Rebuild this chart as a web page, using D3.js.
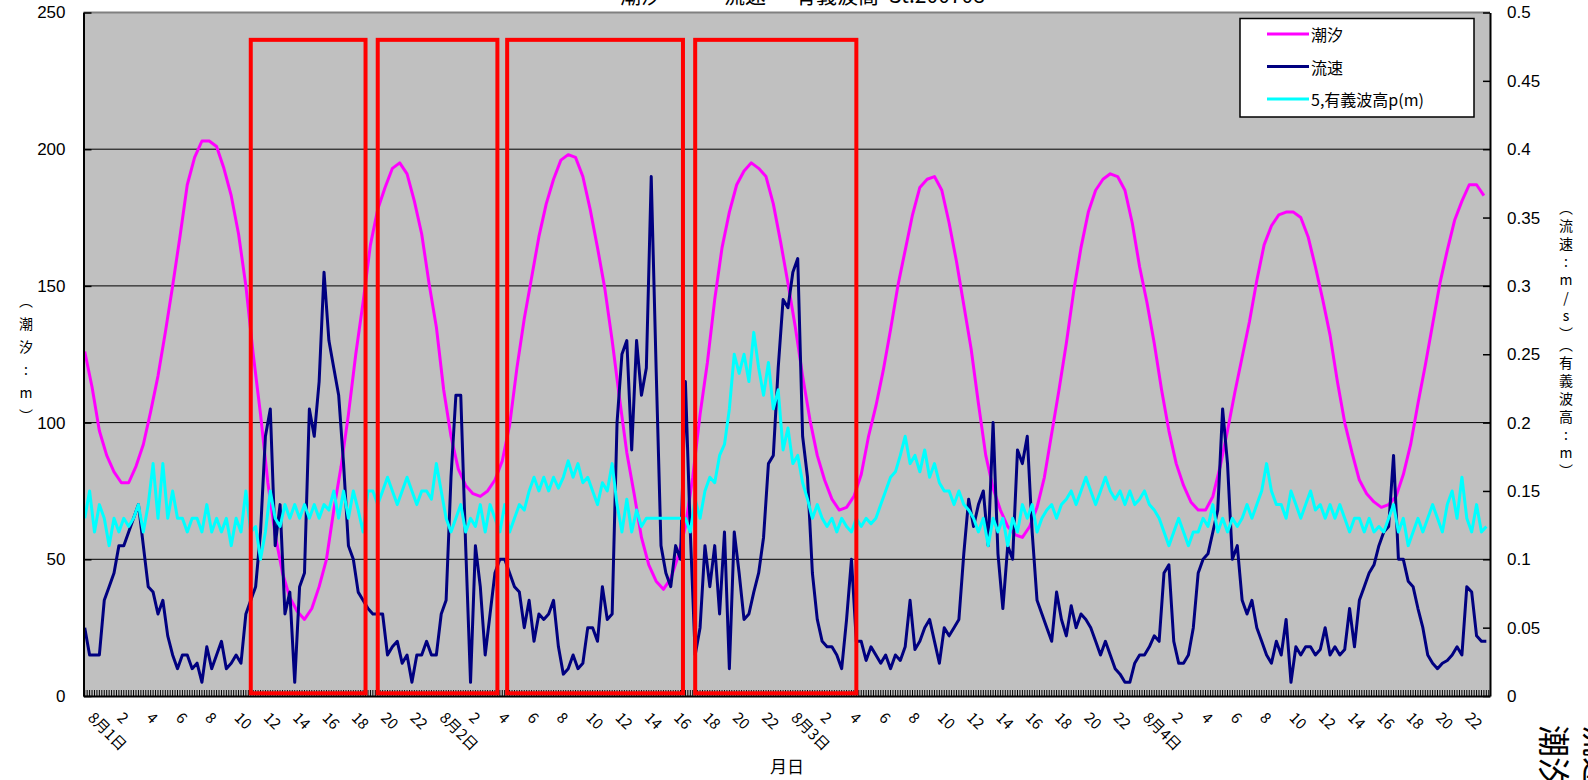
<!DOCTYPE html>
<html>
<head>
<meta charset="utf-8">
<script src="https://cdn.jsdelivr.net/npm/d3@7"></script>
<style>
  body { margin: 0; background: #fff; }
  svg { display: block; }
  text { font-family: "Liberation Sans", Arial, sans-serif; fill: #000; }
  .cjk { font-family: "Noto Sans CJK JP", "Liberation Sans", sans-serif; }
  .vert { writing-mode: vertical-rl; text-orientation: upright; }
</style>
</head>
<body>
<svg id="chart" width="1588" height="780"></svg>
<script>
// ---- data ----------------------------------------------------------
const dayLabels = ["8月1日", "8月2日", "8月3日", "8月4日"];
const hourLabels = [2, 4, 6, 8, 10, 12, 14, 16, 18, 20, 22];
const slotsPerHour = 6;          // 10-minute categories
const slotCount = 96 * slotsPerHour;

// tide (cm, left axis), one reading per 30 minutes
const tide = [
  126, 113, 97, 88, 82, 78, 78, 84, 92, 104, 117, 133,
  150, 168, 187, 197, 203, 203, 201, 193, 183, 169, 150, 125,
  103, 78, 59, 45, 36, 31, 28, 32, 40, 50, 68, 84,
  103, 125, 144, 165, 178, 186, 193, 195, 191, 181, 169, 151,
  135, 112, 95, 83, 77, 74, 73, 75, 79, 86, 99, 120,
  138, 153, 168, 180, 189, 196, 198, 197, 190, 178, 164, 149,
  130, 109, 89, 74, 58, 48, 42, 39, 43, 51, 62, 80,
  103, 122, 145, 164, 177, 187, 192, 195, 193, 190, 180, 166,
  151, 135, 117, 101, 88, 79, 72, 68, 69, 73, 81, 95,
  106, 119, 134, 150, 163, 176, 186, 189, 190, 185, 173, 159,
  143, 127, 107, 88, 76, 68, 62, 59, 58, 62, 69, 80,
  96, 112, 129, 148, 164, 177, 185, 189, 191, 190, 185, 173,
  157, 144, 129, 112, 97, 85, 77, 71, 68, 68, 73, 84,
  97, 111, 124, 137, 152, 165, 172, 176, 177, 177, 175, 168,
  157, 145, 132, 115, 100, 89, 79, 74, 71, 69, 70, 73,
  81, 92, 107, 121, 136, 151, 163, 174, 181, 187, 187, 183
];

// current speed (m/s, right axis), one reading per 20 minutes
const current = [
  0.05, 0.03, 0.03, 0.03, 0.07, 0.08, 0.09, 0.11, 0.11, 0.12, 0.13, 0.14,
  0.11, 0.08, 0.076, 0.06, 0.07, 0.044, 0.03, 0.02, 0.03, 0.03, 0.02, 0.024,
  0.01, 0.036, 0.02, 0.03, 0.04, 0.02, 0.024, 0.03, 0.024, 0.06, 0.07, 0.08,
  0.12, 0.19, 0.21, 0.11, 0.14, 0.06, 0.076, 0.01, 0.08, 0.09, 0.21, 0.19,
  0.23, 0.31, 0.26, 0.24, 0.22, 0.17, 0.11, 0.10, 0.076, 0.07, 0.064, 0.06,
  0.06, 0.06, 0.03, 0.036, 0.04, 0.024, 0.03, 0.01, 0.03, 0.03, 0.04, 0.03,
  0.03, 0.06, 0.07, 0.16, 0.22, 0.22, 0.11, 0.01, 0.11, 0.08, 0.03, 0.06,
  0.09, 0.10, 0.10, 0.09, 0.08, 0.076, 0.05, 0.07, 0.04, 0.06, 0.056, 0.06,
  0.07, 0.036, 0.016, 0.02, 0.03, 0.02, 0.024, 0.05, 0.05, 0.04, 0.08, 0.056,
  0.06, 0.20, 0.25, 0.26, 0.18, 0.26, 0.22, 0.24, 0.38, 0.24, 0.11, 0.09,
  0.08, 0.11, 0.10, 0.23, 0.12, 0.03, 0.05, 0.11, 0.08, 0.11, 0.06, 0.12,
  0.02, 0.12, 0.09, 0.056, 0.06, 0.076, 0.09, 0.116, 0.17, 0.176, 0.24, 0.29,
  0.284, 0.31, 0.32, 0.19, 0.16, 0.09, 0.056, 0.04, 0.036, 0.036, 0.03, 0.02,
  0.056, 0.10, 0.04, 0.04, 0.026, 0.036, 0.03, 0.024, 0.03, 0.02, 0.03, 0.026,
  0.036, 0.07, 0.034, 0.04, 0.05, 0.056, 0.04, 0.024, 0.05, 0.044, 0.05, 0.056,
  0.104, 0.144, 0.124, 0.14, 0.15, 0.11, 0.20, 0.104, 0.064, 0.11, 0.10, 0.18,
  0.17, 0.19, 0.12, 0.07, 0.06, 0.05, 0.04, 0.076, 0.056, 0.044, 0.066, 0.05,
  0.06, 0.056, 0.05, 0.04, 0.03, 0.04, 0.03, 0.02, 0.016, 0.01, 0.01, 0.024,
  0.03, 0.03, 0.036, 0.044, 0.04, 0.09, 0.096, 0.04, 0.024, 0.024, 0.03, 0.05,
  0.09, 0.10, 0.104, 0.12, 0.136, 0.21, 0.17, 0.10, 0.11, 0.07, 0.06, 0.07,
  0.05, 0.04, 0.03, 0.024, 0.04, 0.03, 0.056, 0.01, 0.036, 0.03, 0.036, 0.036,
  0.03, 0.034, 0.05, 0.03, 0.036, 0.03, 0.034, 0.064, 0.036, 0.07, 0.08, 0.09,
  0.096, 0.11, 0.12, 0.124, 0.176, 0.10, 0.10, 0.084, 0.08, 0.064, 0.05, 0.03,
  0.024, 0.02, 0.024, 0.026, 0.03, 0.036, 0.03, 0.08, 0.076, 0.044, 0.04, 0.04
];

// significant wave height (m, right axis), one reading per 20 minutes
const wave = [
  0.13, 0.15, 0.12, 0.14, 0.13, 0.11, 0.13, 0.12, 0.13, 0.124, 0.13, 0.14,
  0.12, 0.14, 0.17, 0.13, 0.17, 0.13, 0.15, 0.13, 0.13, 0.12, 0.13, 0.13,
  0.12, 0.14, 0.12, 0.13, 0.12, 0.13, 0.11, 0.13, 0.12, 0.15, 0.12, 0.124,
  0.10, 0.12, 0.15, 0.13, 0.124, 0.14, 0.13, 0.14, 0.13, 0.14, 0.13, 0.14,
  0.13, 0.14, 0.136, 0.15, 0.13, 0.15, 0.13, 0.15, 0.136, 0.12, 0.15, 0.15,
  0.14, 0.15, 0.16, 0.15, 0.14, 0.15, 0.16, 0.15, 0.14, 0.15, 0.15, 0.144,
  0.17, 0.15, 0.13, 0.12, 0.13, 0.14, 0.12, 0.13, 0.124, 0.14, 0.12, 0.14,
  0.13, 0.12, 0.14, 0.12, 0.13, 0.14, 0.136, 0.15, 0.16, 0.15, 0.16, 0.15,
  0.16, 0.152, 0.16, 0.172, 0.16, 0.17, 0.156, 0.16, 0.15, 0.14, 0.156, 0.15,
  0.17, 0.14, 0.12, 0.144, 0.12, 0.136, 0.124, 0.13, 0.13, 0.13, 0.13, 0.13,
  0.13, 0.13, 0.13, 0.13, 0.12, 0.144, 0.13, 0.15, 0.16, 0.156, 0.176, 0.184,
  0.21, 0.25, 0.236, 0.25, 0.23, 0.266, 0.24, 0.22, 0.244, 0.21, 0.224, 0.18,
  0.196, 0.17, 0.176, 0.156, 0.144, 0.13, 0.14, 0.13, 0.124, 0.13, 0.12, 0.13,
  0.124, 0.12, 0.13, 0.124, 0.13, 0.126, 0.13, 0.14, 0.15, 0.16, 0.164, 0.176,
  0.19, 0.17, 0.176, 0.164, 0.18, 0.16, 0.17, 0.156, 0.15, 0.15, 0.14, 0.15,
  0.14, 0.136, 0.13, 0.12, 0.13, 0.11, 0.13, 0.12, 0.13, 0.11, 0.13, 0.12,
  0.14, 0.13, 0.14, 0.12, 0.13, 0.136, 0.14, 0.13, 0.14, 0.144, 0.15, 0.14,
  0.15, 0.16, 0.15, 0.14, 0.15, 0.16, 0.15, 0.144, 0.15, 0.14, 0.15, 0.14,
  0.144, 0.15, 0.14, 0.136, 0.13, 0.12, 0.11, 0.12, 0.13, 0.12, 0.11, 0.12,
  0.12, 0.13, 0.124, 0.14, 0.12, 0.13, 0.12, 0.13, 0.124, 0.13, 0.14, 0.13,
  0.14, 0.15, 0.17, 0.15, 0.14, 0.14, 0.13, 0.15, 0.14, 0.13, 0.14, 0.15,
  0.136, 0.14, 0.13, 0.14, 0.13, 0.14, 0.13, 0.12, 0.13, 0.13, 0.12, 0.13,
  0.12, 0.124, 0.12, 0.13, 0.14, 0.12, 0.13, 0.11, 0.12, 0.13, 0.12, 0.13,
  0.14, 0.13, 0.12, 0.14, 0.15, 0.13, 0.16, 0.13, 0.12, 0.14, 0.12, 0.124
];

// observation windows outlined in red (hours from 8/1 0:00)
const windows = [[11.33, 19.17], [20.0, 28.17], [28.83, 40.83], [41.67, 52.67]];
const windowRange = [1, 240];    // vertical extent, left-axis units

const leftTicks = [0, 50, 100, 150, 200, 250];
const rightTicks = [0, 0.05, 0.1, 0.15, 0.2, 0.25, 0.3, 0.35, 0.4, 0.45, 0.5];

const seriesNames = ["潮汐", "流速", "5,有義波高p(m)"];
const seriesColors = ["#FF00FF", "#000080", "#00FFFF"];

// ---- layout --------------------------------------------------------
const plot = { left: 83.5, right: 1490, top: 12.5, bottom: 696 };
const svg = d3.select("#chart");

const slots = d3.range(slotCount);
const x = d3.scaleBand().domain(slots).range([plot.left, plot.right]);
const xc = i => x(i) + x.bandwidth() / 2;
const yL = d3.scaleLinear().domain([0, 250]).range([plot.bottom, plot.top]);
const yR = d3.scaleLinear().domain([0, 0.5]).range([plot.bottom, plot.top]);

// plot background
svg.append("rect")
  .attr("x", plot.left).attr("y", plot.top)
  .attr("width", plot.right - plot.left).attr("height", plot.bottom - plot.top)
  .attr("fill", "#C0C0C0");

// horizontal gridlines
svg.append("g").selectAll("line")
  .data(leftTicks.filter(v => v > 0 && v < 250))
  .join("line")
  .attr("x1", plot.left).attr("x2", plot.right)
  .attr("y1", d => yL(d)).attr("y2", d => yL(d))
  .attr("stroke", "#000").attr("stroke-width", 1);

// top border of plot area
svg.append("line")
  .attr("x1", plot.left).attr("x2", plot.right)
  .attr("y1", plot.top).attr("y2", plot.top)
  .attr("stroke", "#808080").attr("stroke-width", 2);

// ---- series --------------------------------------------------------
const tideLine = d3.line().x((d, i) => xc(i * 3)).y(d => yL(d));        // 30-min step
const twentyMinLine = d3.line().x((d, i) => xc(i * 2)).y(d => yR(d));   // 20-min step

svg.append("path").datum(tide)
  .attr("d", tideLine).attr("fill", "none")
  .attr("stroke", seriesColors[0]).attr("stroke-width", 3).attr("stroke-linejoin", "round");
svg.append("path").datum(current)
  .attr("d", twentyMinLine).attr("fill", "none")
  .attr("stroke", seriesColors[1]).attr("stroke-width", 3).attr("stroke-linejoin", "round");
svg.append("path").datum(wave)
  .attr("d", twentyMinLine).attr("fill", "none")
  .attr("stroke", seriesColors[2]).attr("stroke-width", 3).attr("stroke-linejoin", "round");

// ---- axes ----------------------------------------------------------
// category axis: a tick on every 10-minute slot, labels every two hours
const slotLabel = i => {
  if (i % (2 * slotsPerHour) !== 0) return "";
  const h = i / slotsPerHour;
  const hr = h % 24;
  return hr === 0 ? dayLabels[Math.floor(h / 24)] : String(hourLabels[hr / 2 - 1]);
};
const xAxis = svg.append("g")
  .attr("transform", `translate(0,${plot.bottom})`)
  .call(d3.axisBottom(x).tickSize(-6).tickSizeOuter(0).tickFormat(() => ""));
xAxis.select(".domain").attr("stroke", "#000").attr("stroke-width", 2);
xAxis.selectAll(".tick line").attr("stroke", "#000").attr("stroke-width", 1);

svg.append("g").selectAll("text")
  .data(slots.filter(i => slotLabel(i) !== ""))
  .join("text")
  .attr("class", "cjk")
  .attr("transform", i => `translate(${xc(i) + 6},${plot.bottom + 19}) rotate(45)`)
  .attr("font-size", 15)
  .attr("dy", "0.35em")
  .text(i => slotLabel(i));

// left axis
const leftAxis = svg.append("g")
  .attr("transform", `translate(${plot.left},0)`)
  .call(d3.axisLeft(yL).tickValues(leftTicks).tickSize(-8).tickSizeOuter(0).tickPadding(18)
    .tickFormat(d3.format("d")));
leftAxis.select(".domain").attr("stroke", "#000").attr("stroke-width", 2);
leftAxis.selectAll(".tick line").attr("stroke", "#000").attr("stroke-width", 1.5);
leftAxis.selectAll(".tick text").attr("font-size", 17).attr("font-family", "Liberation Sans, Arial, sans-serif");

// right axis
const rightAxis = svg.append("g")
  .attr("transform", `translate(${plot.right},0)`)
  .call(d3.axisRight(yR).tickValues(rightTicks).tickSize(-7).tickSizeOuter(0).tickPadding(17)
    .tickFormat(d => String(+d.toFixed(2))));
rightAxis.select(".domain").attr("stroke", "#000").attr("stroke-width", 2);
rightAxis.selectAll(".tick line").attr("stroke", "#000").attr("stroke-width", 1.5);
rightAxis.selectAll(".tick text").attr("font-size", 17).attr("font-family", "Liberation Sans, Arial, sans-serif");

// ---- observation windows ------------------------------------------
svg.append("g").selectAll("rect")
  .data(windows)
  .join("rect")
  .attr("x", d => xc(Math.round(d[0] * slotsPerHour)))
  .attr("width", d => xc(Math.round(d[1] * slotsPerHour)) - xc(Math.round(d[0] * slotsPerHour)))
  .attr("y", yL(windowRange[1]))
  .attr("height", yL(windowRange[0]) - yL(windowRange[1]))
  .attr("fill", "none").attr("stroke", "#FF0000").attr("stroke-width", 4);

// ---- axis titles ---------------------------------------------------
svg.append("text").attr("class", "cjk vert")
  .attr("x", 26).attr("y", 294)
  .attr("font-size", 14).attr("letter-spacing", 9)
  .text("（潮汐:m）");
svg.append("text").attr("class", "cjk vert")
  .attr("x", 1566).attr("y", 201)
  .attr("font-size", 14).attr("letter-spacing", 4)
  .text("（流速:m/s）（有義波高:m）");

svg.append("text").attr("class", "cjk")
  .attr("x", 787).attr("y", 773).attr("text-anchor", "middle")
  .attr("font-size", 17).text("月日");

// chart title (sits at the top edge of the page)
const title = svg.append("text").attr("class", "cjk").attr("y", 3).attr("font-size", 21);
title.append("tspan").attr("x", 620).text("潮汐");
title.append("tspan").attr("x", 680).text("・");
title.append("tspan").attr("x", 724).text("流速");
title.append("tspan").attr("x", 768).text("・");
title.append("tspan").attr("x", 795).text("有義波高");
title.append("tspan").attr("x", 889).text("St.200708");

// neighbouring title, set sideways at the right edge
svg.append("text").attr("class", "cjk")
  .attr("transform", "translate(1542,725) rotate(90)")
  .attr("font-size", 32).text("潮汐・流速");
svg.append("text").attr("class", "cjk")
  .attr("transform", "translate(1586,725) rotate(90)")
  .attr("font-size", 32).text("流速");

// ---- legend --------------------------------------------------------
const legend = svg.append("g");
legend.append("rect")
  .attr("x", 1240).attr("y", 18.5).attr("width", 234).attr("height", 98.5)
  .attr("fill", "#fff").attr("stroke", "#000").attr("stroke-width", 1.5);
const rows = legend.selectAll("g.row").data(seriesNames).join("g")
  .attr("class", "row")
  .attr("transform", (d, i) => `translate(0,${34 + i * 32.5})`);
rows.append("line")
  .attr("x1", 1267).attr("x2", 1309).attr("y1", 0).attr("y2", 0)
  .attr("stroke", (d, i) => seriesColors[i]).attr("stroke-width", 3);
rows.append("text").attr("class", "cjk")
  .attr("x", 1311).attr("y", 0).attr("dominant-baseline", "central")
  .attr("font-size", 16).text(d => d);
</script>
</body>
</html>
